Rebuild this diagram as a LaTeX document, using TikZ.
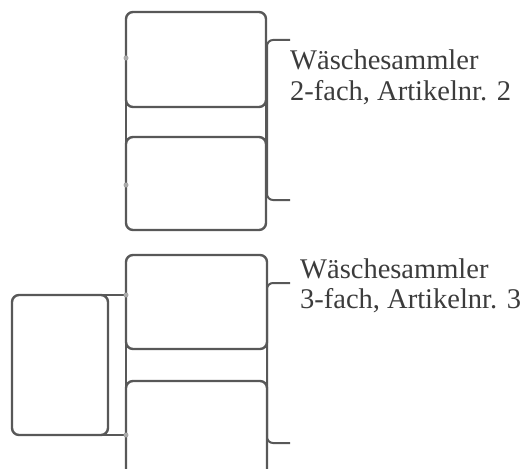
\documentclass[tikz,border=0pt]{standalone}
\usepackage{fontspec}
\setmainfont{Liberation Serif}
\usetikzlibrary{positioning}
\definecolor{FrameGray}{RGB}{88,88,88}
\definecolor{DotGray}{RGB}{170,170,170}
\definecolor{TextGray}{RGB}{60,60,60}

\tikzset{
  fach/.style={draw=FrameGray, line width=2.4pt, rounded corners=7pt,
               inner sep=0pt, outer sep=0pt, minimum width=#1},
  fach/.default=140pt,
  frame/.style={draw=FrameGray, line width=2.4pt},
  klammer/.style={draw=FrameGray, line width=2pt, rounded corners=6pt},
  knopf/.style={circle, fill=DotGray, inner sep=0pt, minimum size=5pt},
  label/.style={font=\fontsize{28.5}{30}\selectfont, text=TextGray,
                align=left, inner sep=0pt, anchor=base west}
}

\begin{document}
\begin{tikzpicture}[x=1pt, y=-1pt]
  \useasboundingbox[fill=white] (0,0) rectangle (524,468);
  % upper unit, two compartments
  \node[fach, minimum height=95pt] (a1) at (196,59.5) {};
  \node[fach, minimum height=93pt] (a2) at (196,183.5) {};
  \draw[frame] (a1.west) -- (a2.west);
  \draw[frame] (a1.east) -- (a2.east);
  \node[knopf] (d1) at (126,58) {};
  \node[knopf] (d2) at (126,185) {};
  \coordinate (k1) at (290,40);
  \coordinate (k2) at (290,200);
  \draw[klammer] (k1) -| (267,120) |- (k2);
  \node[label] (t1) at (290,100) {Wäschesammler\\2-fach, Artikelnr. 2};
  % lower unit, three compartments
  \node[fach=141pt, minimum height=94pt] (b1) at (196.5,302) {};
  \node[fach=141pt, minimum height=100pt] (b2) at (196.5,431) {};
  \draw[frame] (b1.west) -- (b2.west);
  \draw[frame] (b1.east) -- (b2.east);
  \node[fach=96pt, minimum height=140pt] (s) at (60,365) {};
  \coordinate (j3) at (126,295);
  \coordinate (j4) at (126,435);
  \draw[frame] (s.north) -- (j3);
  \draw[frame] (s.south) -- (j4);
  \node[knopf] (d3) at (j3) {};
  \node[knopf] (d4) at (j4) {};
  \coordinate (k3) at (290,283);
  \coordinate (k4) at (290,443);
  \draw[klammer] (k3) -| (267,360) |- (k4);
  \node[label] (t2) at (300,308) {Wäschesammler\\3-fach, Artikelnr. 3};
\end{tikzpicture}
\end{document}
